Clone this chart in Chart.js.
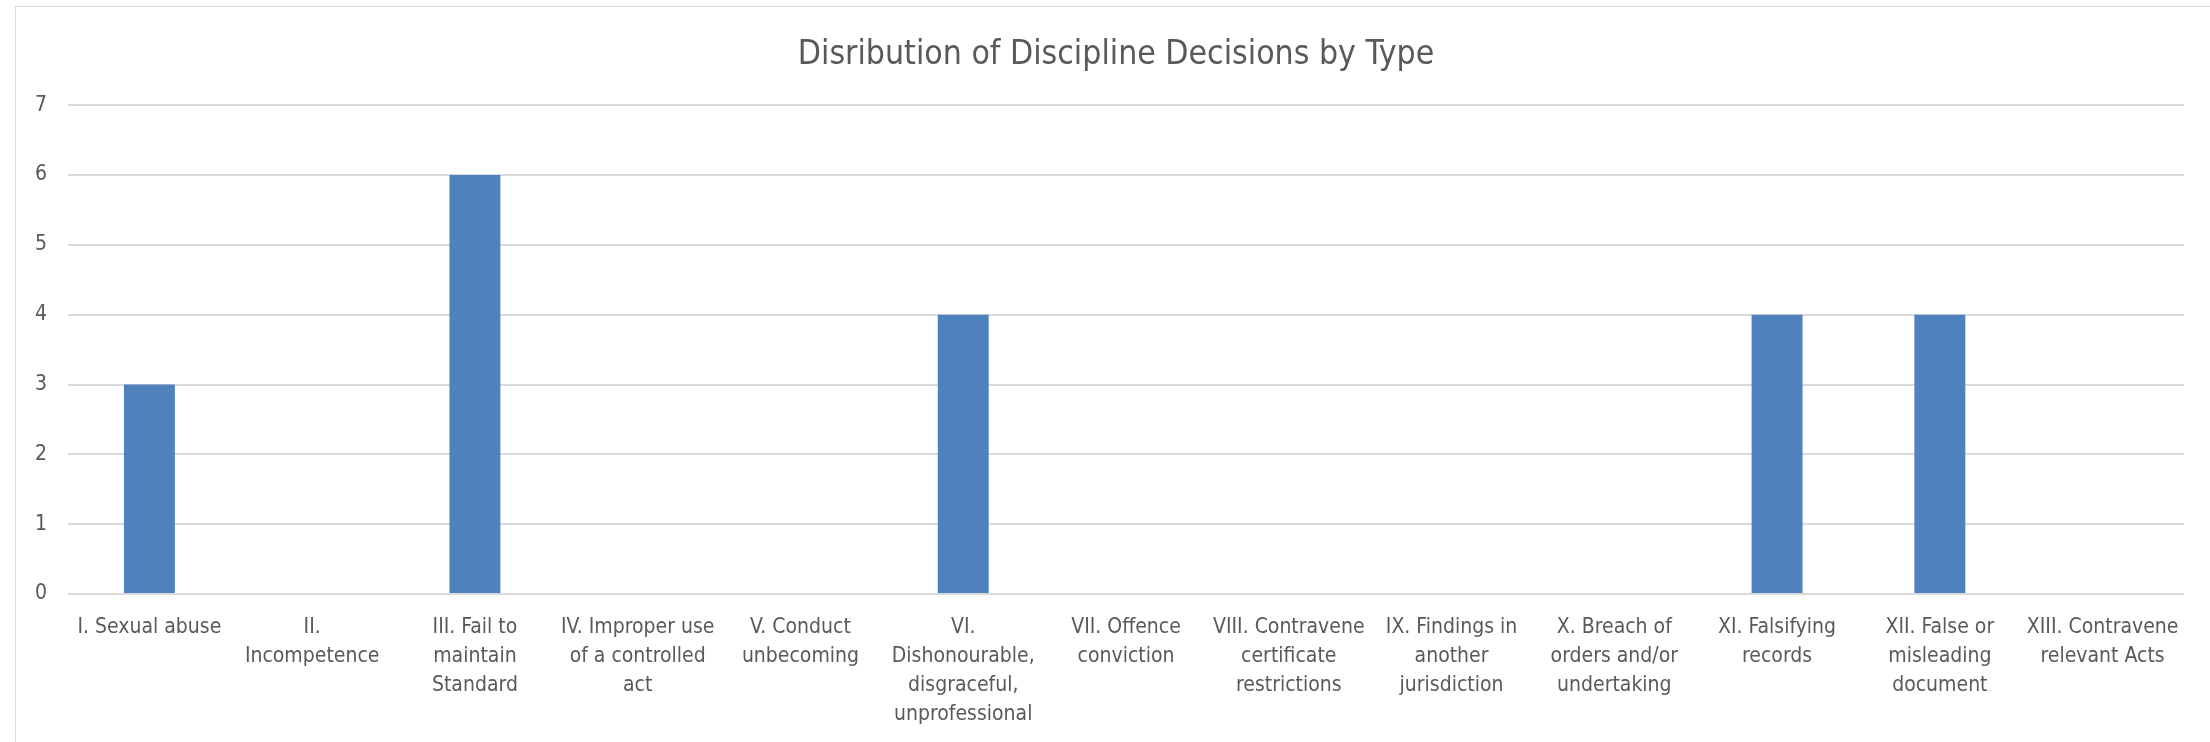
<!DOCTYPE html>
<html>
<head>
<meta charset="utf-8">
<script src="https://cdn.jsdelivr.net/npm/chart.js@4/dist/chart.umd.min.js"></script>
<style>
  html, body { margin: 0; padding: 0; background: #ffffff; }
  body { width: 2210px; height: 742px; position: relative; overflow: hidden; }
  #frame { position: absolute; left: 15px; top: 6px; width: 2400px; height: 900px; border: 1px solid #d9d9d9; }
  #typeChart { position: absolute; left: 0; top: 0; }
</style>
</head>
<body>
<div id="frame"></div>
<canvas id="typeChart" width="2210" height="742"></canvas>
<script>
// categories, one array of lines per label (wrapped like the original)
const categories = [
    ["I. Sexual abuse"],
    ["II.", "Incompetence"],
    ["III. Fail to", "maintain", "Standard"],
    ["IV. Improper use", "of a controlled", "act"],
    ["V. Conduct", "unbecoming"],
    ["VI.", "Dishonourable,", "disgraceful,", "unprofessional"],
    ["VII. Offence", "conviction"],
    ["VIII. Contravene", "certificate", "restrictions"],
    ["IX. Findings in", "another", "jurisdiction"],
    ["X. Breach of", "orders and/or", "undertaking"],
    ["XI. Falsifying", "records"],
    ["XII. False or", "misleading", "document"],
    ["XIII. Contravene", "relevant Acts"]
];

const decisions = [3, 0, 6, 0, 0, 4, 0, 0, 0, 0, 4, 4, 0];

const yTicks = [0, 1, 2, 3, 4, 5, 6, 7];

const font = "'Liberation Sans Narrow', 'DejaVu Sans Condensed', 'Liberation Sans', sans-serif";

const ctx = document.getElementById("typeChart");

new Chart(ctx, {
    type: "bar",
    data: {
        labels: categories,
        datasets: [{
            data: decisions,
            backgroundColor: "#4f81bd",
            borderWidth: 0,
            categoryPercentage: 1,
            barPercentage: 0.313
        }]
    },
    options: {
        responsive: false,
        animation: false,
        devicePixelRatio: 1,
        // left padding shifts the title centre like the original
        layout: { padding: { left: 22, right: 0, top: 0, bottom: 0 } },
        plugins: {
            legend: { display: false },
            tooltip: { enabled: false },
            title: {
                display: true,
                text: "Disribution of Discipline Decisions by Type",
                color: "#595959",
                font: { family: font, size: 33.5, weight: "normal" },
                padding: { top: 35, bottom: 30 }
            }
        },
        scales: {
            x: {
                grid: { display: false, drawTicks: false },
                border: { display: false },
                ticks: {
                    color: "#595959",
                    font: { family: font, size: 21, lineHeight: 1.38 },
                    padding: 19,
                    maxRotation: 0,
                    autoSkip: false
                },
                afterFit: scale => { scale.height = 148; }
            },
            y: {
                min: 0,
                max: 7,
                afterBuildTicks: scale => {
                    scale.ticks = yTicks.map(v => ({ value: v }));
                },
                grid: { color: "#d9d9d9", lineWidth: 2, drawTicks: false },
                border: { display: false },
                ticks: {
                    color: "#595959",
                    font: { family: font, size: 21 },
                    padding: 21
                },
                afterFit: scale => { scale.width = 46; }
            },
            // empty spacer on the right
            yRight: {
                position: "right",
                min: 0,
                max: 7,
                grid: { display: false, drawTicks: false },
                border: { display: false },
                ticks: { display: false },
                afterFit: scale => { scale.width = 26; }
            }
        }
    }
});
</script>
</body>
</html>
